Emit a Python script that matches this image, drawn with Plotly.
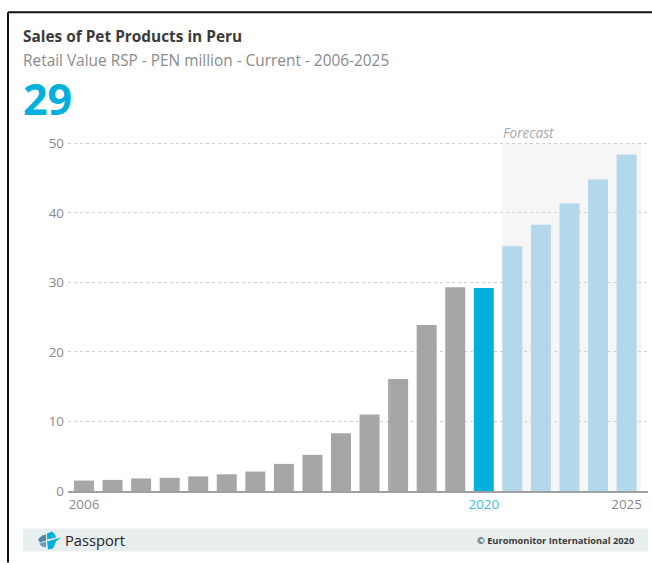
import plotly.graph_objects as go

years = list(range(2006, 2026))
values = [1.5, 1.6, 1.8, 1.9, 2.1, 2.4, 2.8, 3.9, 5.2, 8.3, 11.0, 16.1, 23.9, 29.3, 29.2, 35.2, 38.3, 41.4, 44.8, 48.4]
grey = "#a5a6a8"
blue = "#00b0dc"
light = "#b3d8ec"
colors = [grey] * 14 + [blue] + [light] * 5
tick_years = [2006, 2020, 2025]
tick_labels = ["2006", '<span style="color:#3cbce4">2020</span>', "2025"]
y_ticks = [0, 10, 20, 30, 40, 50]
y_top = 50.5

W, H = 652, 563
L, R, T, B = 68, 648, 140.02, 491.5
font = "Open Sans"


def px(x):
    return (x - L) / (R - L)


def py(y):
    return (B - y) / (B - T)


fig = go.Figure(go.Bar(x=years, y=values, marker=dict(color=colors, line=dict(width=0)), width=0.7))

shapes = [
    # forecast band
    dict(type="rect", xref="x", yref="y", x0=2020.64, x1=2025.51, y0=0, y1=50, fillcolor="#f6f6f6", line_width=0, layer="below"),
    # outer frame
    dict(type="line", xref="paper", yref="paper", x0=px(8), x1=px(8), y0=py(12), y1=py(563), line=dict(color="#111111", width=2)),
    dict(type="line", xref="paper", yref="paper", x0=px(8), x1=px(652), y0=py(12), y1=py(12), line=dict(color="#111111", width=2)),
    # footer band
    dict(type="rect", xref="paper", yref="paper", x0=px(23), x1=px(648), y0=py(552), y1=py(529), fillcolor="#e9eeef", line_width=0, layer="below"),
]

# Passport logo, drawn in page pixels
logo = [
    ("#4f86a6", [(38, 540), (42, 536), (46, 535), (46, 541), (40, 543)]),
    ("#6d9db8", [(39, 544), (46, 542), (46, 548), (42, 547)]),
    ("#00b0dc", [(47, 534), (52, 532), (55, 535), (56, 538), (47, 540)]),
    ("#00b0dc", [(47, 542), (61, 538), (56, 542), (53, 549), (48, 550)]),
]
for col, pts in logo:
    path = "M " + " L ".join(f"{px(a):.5f},{py(b):.5f}" for a, b in pts) + " Z"
    shapes.append(dict(type="path", xref="paper", yref="paper", path=path, fillcolor=col, line_width=0))


def label(text, x, y, size, color, anchor="left", bold=False, italic=False):
    t = f"<b>{text}</b>" if bold else text
    t = f"<i>{t}</i>" if italic else t
    return dict(text=t, xref="paper", yref="paper", x=px(x), y=py(y), xanchor=anchor, yanchor="middle",
                showarrow=False, borderpad=0, font=dict(family=font, size=size, color=color))


annotations = [
    label("Sales of Pet Products in Peru", 22, 36, 15.4, "#3a3a3a", bold=True),
    label("Retail Value RSP - PEN million - Current - 2006-2025", 22, 60, 15.4, "#8a8a8a"),
    label("29", 22, 98, 43, "#00b0dc", bold=True),
    label("Forecast", 502, 133, 13.6, "#a8a8a8", italic=True),
    label("Passport", 64, 541, 14.7, "#222222"),
    label("© Euromonitor International 2020", 635, 541, 9.3, "#3a3a3a", anchor="right", bold=True),
]

fig.update_layout(
    width=W, height=H, autosize=False,
    margin=dict(l=L, r=W - R, t=T, b=H - B, pad=0),
    paper_bgcolor="white", plot_bgcolor="rgba(0,0,0,0)",
    showlegend=False, shapes=shapes, annotations=annotations,
    font=dict(family=font, color="#8a8a8a", size=13.4),
    xaxis=dict(
        range=[2005.44, 2025.75], tickmode="array", tickvals=tick_years, ticktext=tick_labels,
        showgrid=False, zeroline=False, showline=True, linecolor="#a0a0a0", linewidth=2,
        ticks="", tickfont=dict(size=13.4, color="#8a8a8a"), automargin=False,
    ),
    yaxis=dict(
        range=[0, y_top], tickmode="array", tickvals=y_ticks,
        showgrid=True, gridcolor="#cfcfcf", griddash="dot", gridwidth=1,
        zeroline=False, showline=False, ticks="", ticklabelstandoff=3,
        tickfont=dict(size=13.4, color="#8a8a8a"), automargin=False,
    ),
)

# the page's default 8px body margin would push the figure off its 652x563 window
fig.write_html("out.html", config=dict(displayModeBar=False),
               post_script="document.body.style.margin='0';document.documentElement.style.overflow='hidden';")
